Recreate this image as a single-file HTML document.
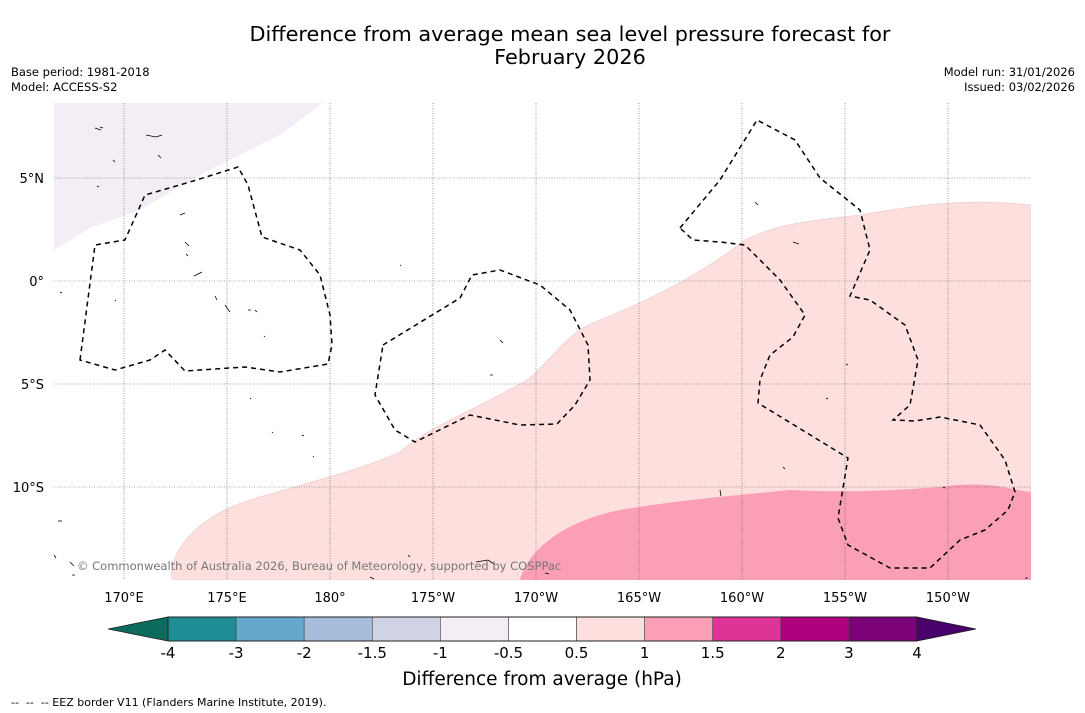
<!DOCTYPE html>
<html><head><meta charset="utf-8"><style>
body{margin:0;background:#fff;font-family:"Liberation Sans","DejaVu Sans",sans-serif;}
svg{display:block}
</style></head><body>
<svg id="c" width="1085" height="713" viewBox="0 0 1085 713" xmlns="http://www.w3.org/2000/svg" font-family="DejaVu Sans, Liberation Sans, sans-serif">
<text x="570" y="41" text-anchor="middle" font-size="20.8">Difference from average mean sea level pressure forecast for</text>
<text x="570" y="64" text-anchor="middle" font-size="20.8">February 2026</text>
<text x="11" y="76" font-size="11.5">Base period: 1981-2018</text>
<text x="11" y="91" font-size="11.5">Model: ACCESS-S2</text>
<text x="1075" y="76" font-size="11.5" text-anchor="end">Model run: 31/01/2026</text>
<text x="1075" y="91" font-size="11.5" text-anchor="end">Issued: 03/02/2026</text>
<defs><clipPath id="mc"><rect x="54" y="103" width="977" height="477"/></clipPath></defs>
<g clip-path="url(#mc)">
<path fill="#f3eef6" d="M54,103 L323,103 L280,135 L200,175 L140,210 L90,228 L54,250 Z"/>
<path fill="#fde0dd" stroke="#e8c8c8" stroke-width="0.6" d="M172,580 C168,550 200,515 250,500 C300,485 360,470 400,452 C430,425 480,408 530,378 C560,350 570,330 600,320 C650,300 700,275 745,240 C780,222 820,220 860,215 C920,205 960,198 1031,205 L1031,580 Z"/>
<path fill="#fa9fb5" d="M520,580 C530,545 570,520 620,510 C680,500 730,496 790,490 C850,493 900,490 940,487 C990,480 1010,490 1031,492 L1031,580 Z"/>
<g id="grid" stroke="#555" stroke-width="0.6" stroke-dasharray="1,1.5"></g>
<g fill="none" stroke="#000" stroke-width="1.5" stroke-dasharray="5,4">
<path d="M80,360 L95,245 L125,240 L145,195 L190,182 L238,167 L248,185 L262,237 L300,250 L320,275 L330,315 L332,345 L328,364 L280,372 L245,367 L185,371 L165,350 L150,360 L115,370 Z"/>
<path d="M383,345 L460,298 L472,275 L500,270 L540,285 L570,310 L588,345 L590,380 L575,405 L557,424 L520,425 L470,415 L415,442 L395,430 L375,395 Z"/>
<path d="M680,228 L720,180 L757,120 L795,140 L820,178 L860,210 L870,250 L850,296 L870,300 L905,325 L918,360 L910,405 L893,420 L915,421 L940,417 L980,425 L1005,460 L1015,492 L1008,510 L985,530 L960,540 L930,568 L890,568 L848,545 L838,518 L848,458 L758,403 L760,380 L770,355 L793,337 L805,315 L780,280 L750,250 L745,245 L720,242 L693,240 Z"/>
</g>
<g fill="none" stroke="#000" stroke-width="0.8">
<path d="M146,135 l10,2 l6,-2"/><path d="M95,128 l6,2 M100,127 l3,1 M113,160 l2,2 M180,215 l5,-2 M185,242 l4,4 M186,254 l2,2 M194,276 l8,-4 M215,296 l2,4 M225,305 l5,7 M248,310 l3,0 M255,310 l2,2 M264,336 l1,1 M250,398 l1,1 M272,432 l1,1 M302,435 l2,1 M313,456 l1,1 M476,562 l12,-2 l6,4 M408,555 l2,2 M545,573 l4,1 M370,577 l4,2 M500,340 l3,3 M490,375 l3,0 M755,202 l3,3 M793,242 l6,2 M783,467 l2,2 M720,490 l1,6 M60,292 l2,1 M58,521 l4,0 M70,562 l4,4 M72,575 l3,0 M54,555 l2,3 M158,155 l3,3 M97,186 l2,1 M115,300 l1,1 M400,265 l1,1 M846,364 l2,1 M826,398 l2,1 M943,487 l2,1 M1025,578 l3,0"/>
</g>
<text x="77" y="570" font-size="11.5" fill="#777">© Commonwealth of Australia 2026, Bureau of Meteorology, supported by COSPPac</text>
</g>
<g id="xt" font-size="13" text-anchor="middle"></g>
<g id="yt" font-size="13" text-anchor="end"></g>
<g id="cb"></g>
<text x="542" y="685" text-anchor="middle" font-size="18.5">Difference from average (hPa)</text>
<text x="11" y="706" font-size="11">-- &#160;-- &#160;-- EEZ border V11 (Flanders Marine Institute, 2019).</text>
</svg>
<script>
const lonLabels = ["170°E","175°E","180°","175°W","170°W","165°W","160°W","155°W","150°W"];
const lonValues = [170,175,180,185,190,195,200,205,210];
const latLabels = ["5°N","0°","5°S","10°S"];
const latValues = [5,0,-5,-10];
const cbLevels = ["-4","-3","-2","-1.5","-1","-0.5","0.5","1","1.5","2","3","4"];
const cbColors = ["#1d8f94","#65a8cd","#a7bddc","#d0d2e6","#f3edf5","#ffffff","#fde0dd","#fa9fb5","#dd3497","#ae017e","#7a0177"];
const cbLow = "#0b6b5c", cbHigh = "#49006a";
const NS="http://www.w3.org/2000/svg";
const xOf = lon => 124 + (lon-170)*20.6;
const yOf = lat => 281 - lat*20.6;
const grid=document.getElementById('grid'), xt=document.getElementById('xt'), yt=document.getElementById('yt'), cb=document.getElementById('cb');
function mk(t,a,p){const e=document.createElementNS(NS,t);for(const k in a)e.setAttribute(k,a[k]);p.appendChild(e);return e;}
lonValues.forEach((v,i)=>{
  const l=mk('line',{x1:xOf(v),x2:xOf(v),y1:103,y2:580},grid);
  
  
  const t=mk('text',{x:xOf(v),y:602},xt);t.textContent=lonLabels[i];
  
  
});
latValues.forEach((v,i)=>{
  const l=mk('line',{x1:54,x2:1031,y1:yOf(v),y2:yOf(v)},grid);
  
  
  const t=mk('text',{x:44,y:yOf(v)+5},yt);t.textContent=latLabels[i];
  
  
});
const cx0=168, cx1=917, cy=617, ch=24, w=(cx1-cx0)/cbColors.length;
const lo=mk('polygon',{points:`108,${cy+ch/2} ${cx0},${cy} ${cx0},${cy+ch}`,fill:cbLow,stroke:'#222','stroke-width':0.8},cb);


const hi=mk('polygon',{points:`976,${cy+ch/2} ${cx1},${cy} ${cx1},${cy+ch}`,fill:cbHigh,stroke:'#222','stroke-width':0.8},cb);


cbColors.forEach((c,i)=>{
  const r=mk('rect',{x:cx0+i*w,y:cy,width:w,height:ch,fill:c,stroke:'#444','stroke-width':0.6},cb);
  
  
});
mk('rect',{x:cx0,y:cy,width:cx1-cx0,height:ch,fill:'none',stroke:'#222','stroke-width':1},cb);
cbLevels.forEach((s,i)=>{
  const t=mk('text',{x:cx0+i*w,y:658,'font-size':15,'text-anchor':'middle'},cb);t.textContent=s;
  
  
});
</script>
</body></html>
